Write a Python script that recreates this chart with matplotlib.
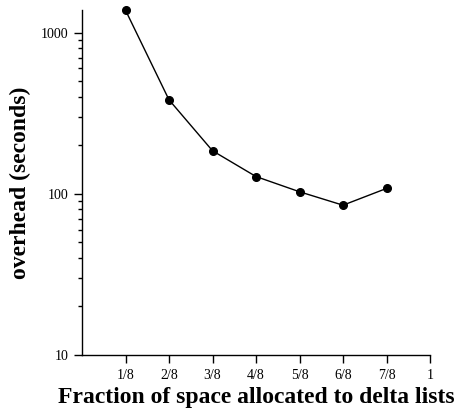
import matplotlib
matplotlib.use("Agg")
import matplotlib.pyplot as plt
from matplotlib.ticker import FixedLocator, LogLocator, NullFormatter

fractions = [1/8, 2/8, 3/8, 4/8, 5/8, 6/8, 7/8]
overhead = [1378, 383, 185, 128, 103, 85, 108]
xtick_vals = [1/8, 2/8, 3/8, 4/8, 5/8, 6/8, 7/8, 1]
xtick_labels = ["1/8", "2/8", "3/8", "4/8", "5/8", "6/8", "7/8", "1"]
ytick_vals = [10, 100, 1000]
ytick_labels = ["10", "100", "1000"]

plt.rcParams['font.family'] = ['Liberation Serif', 'DejaVu Serif']

fig = plt.figure(figsize=(4.61, 4.11), dpi=100)
ax = fig.add_axes([82/461, 56/411, 348/461, 345/411])

ax.plot(fractions, overhead, color='black', linewidth=1.0, marker='o',
        markersize=5.5, clip_on=False)

ax.set_yscale('log')
ax.set_xlim(0, 1)
ax.set_ylim(10, 1382)

ax.xaxis.set_major_locator(FixedLocator(xtick_vals))
ax.set_xticklabels(xtick_labels)
ax.yaxis.set_major_locator(FixedLocator(ytick_vals))
ax.set_yticklabels(ytick_labels)
ax.yaxis.set_minor_locator(LogLocator(base=10, subs=range(2, 10)))
ax.yaxis.set_minor_formatter(NullFormatter())

ax.tick_params(axis='both', which='major', direction='out', length=6,
               width=1, labelsize=10, colors='black')
ax.tick_params(axis='y', which='minor', direction='out', length=3, width=1)
ax.tick_params(axis='x', which='major', pad=4)

for s in ['top', 'right']:
    ax.spines[s].set_visible(False)
for s in ['left', 'bottom']:
    ax.spines[s].set_linewidth(1.0)

ax.set_xlabel('Fraction of space allocated to delta lists', fontsize=17,
              fontweight='bold', labelpad=4)
ax.set_ylabel('overhead (seconds)', fontsize=17, fontweight='bold', labelpad=7)

fig.savefig('out.png', dpi=100)
